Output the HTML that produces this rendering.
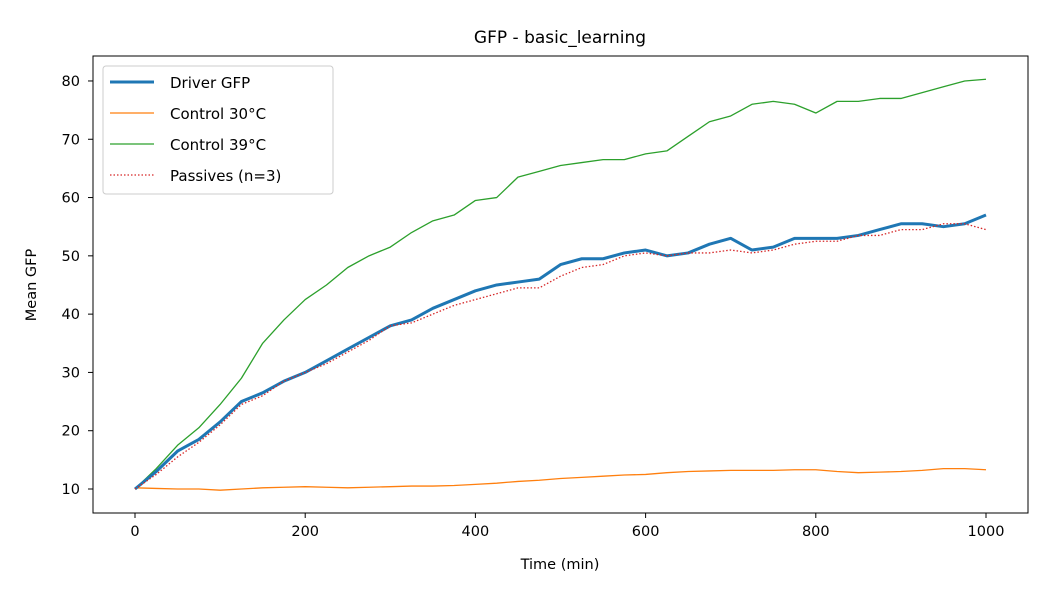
<!DOCTYPE html>
<html><head><meta charset="utf-8"><style>
body{margin:0;background:#fff;font-family:"Liberation Sans","DejaVu Sans",sans-serif}
</style></head><body>
<svg id="chart" width="1050" height="600" xmlns="http://www.w3.org/2000/svg" font-family="DejaVu Sans, Liberation Sans, sans-serif">
<rect width="1050" height="600" fill="#fff"/>
<text x="560" y="43" text-anchor="middle" font-size="17">GFP - basic_learning</text>
<text x="560" y="569" text-anchor="middle" font-size="14.5">Time (min)</text>
<text transform="translate(36,285) rotate(-90)" text-anchor="middle" font-size="14.5">Mean GFP</text>
<g id="xt"></g><g id="yt"></g><g id="series"></g>
<rect x="93" y="56" width="935" height="457" fill="none" stroke="#000" stroke-width="1"/>
<g>
<rect x="103" y="66" width="230" height="128" rx="3" fill="#fff" fill-opacity="0.8" stroke="#ccc"/>
<line x1="110" y1="82" x2="154" y2="82" stroke="#1f77b4" stroke-width="3"/>
<text x="170" y="88" font-size="15">Driver GFP</text>
<line x1="110" y1="113" x2="154" y2="113" stroke="#ff7f0e" stroke-width="1.3"/>
<text x="170" y="119" font-size="15">Control 30°C</text>
<line x1="110" y1="144" x2="154" y2="144" stroke="#2ca02c" stroke-width="1.3"/>
<text x="170" y="150" font-size="15">Control 39°C</text>
<line x1="110" y1="175" x2="154" y2="175" stroke="#d62728" stroke-width="1.3" stroke-dasharray="1.5,2"/>
<text x="170" y="181" font-size="15">Passives (n=3)</text>
</g>
</svg>
<script>
const times=[0,25,50,75,100,125,150,175,200,225,250,275,300,325,350,375,400,425,450,475,500,525,550,575,600,625,650,675,700,725,750,775,800,825,850,875,900,925,950,975,1000];
const driver=[10,13,16.5,18.5,21.5,25,26.5,28.5,30,32,34,36,38,39,41,42.5,44,45,45.5,46,48.5,49.5,49.5,50.5,51,50,50.5,52,53,51,51.5,53,53,53,53.5,54.5,55.5,55.5,55,55.5,57];
const passives=[10,12.5,15.5,18,21,24.5,26,28.5,30,31.5,33.5,35.5,38,38.5,40,41.5,42.5,43.5,44.5,44.5,46.5,48,48.5,50,50.5,50,50.5,50.5,51,50.5,51,52,52.5,52.5,53.5,53.5,54.5,54.5,55.5,55.5,54.5];
const ctrl39=[10,13.5,17.5,20.5,24.5,29,35,39,42.5,45,48,50,51.5,54,56,57,59.5,60,63.5,64.5,65.5,66,66.5,66.5,67.5,68,70.5,73,74,76,76.5,76,74.5,76.5,76.5,77,77,78,79,80,80.3];
const ctrl30=[10.2,10.1,10,10,9.8,10,10.2,10.3,10.4,10.3,10.2,10.3,10.4,10.5,10.5,10.6,10.8,11,11.3,11.5,11.8,12,12.2,12.4,12.5,12.8,13,13.1,13.2,13.2,13.2,13.3,13.3,13,12.8,12.9,13,13.2,13.5,13.5,13.3];
const xTicks=[0,200,400,600,800,1000];
const yTicks=[10,20,30,40,50,60,70,80];
const NS="http://www.w3.org/2000/svg";
const X=v=>135+v*0.851, Y=v=>489-(v-10)*5.829;
const xt=document.getElementById('xt'),yt=document.getElementById('yt'),sg=document.getElementById('series');
xTicks.forEach(t=>{
 const l=document.createElementNS(NS,'line');
 
 
 l.setAttribute('x1',X(t));l.setAttribute('x2',X(t));l.setAttribute('y1',513);l.setAttribute('y2',518);l.setAttribute('stroke','#000');
 xt.appendChild(l);
 const s=document.createElementNS(NS,'text');
 
 
 s.setAttribute('x',X(t));s.setAttribute('y',536);s.setAttribute('text-anchor','middle');s.setAttribute('font-size','14.5');
 s.textContent=t;xt.appendChild(s);
});
yTicks.forEach(t=>{
 const l=document.createElementNS(NS,'line');
 
 
 l.setAttribute('x1',88);l.setAttribute('x2',93);l.setAttribute('y1',Y(t));l.setAttribute('y2',Y(t));l.setAttribute('stroke','#000');
 yt.appendChild(l);
 const s=document.createElementNS(NS,'text');
 
 
 s.setAttribute('x',80);s.setAttribute('y',Y(t)+5);s.setAttribute('text-anchor','end');s.setAttribute('font-size','14.5');
 s.textContent=t;yt.appendChild(s);
});
function line(vals,color,w,dash,name){
 const p=document.createElementNS(NS,'polyline');
 
 
 p.setAttribute('points',vals.map((v,i)=>X(times[i])+','+Y(v)).join(' '));
 p.setAttribute('fill','none');p.setAttribute('stroke',color);p.setAttribute('stroke-width',w);
 p.setAttribute('stroke-linejoin','round');
 if(dash)p.setAttribute('stroke-dasharray',dash);
 sg.appendChild(p);
}
line(ctrl30,'#ff7f0e',1.3,null,'control-30-line');
line(ctrl39,'#2ca02c',1.3,null,'control-39-line');
line(driver,'#1f77b4',3,null,'driver-gfp-line');
line(passives,'#d62728',1.3,'1.5,2','passives-line');
</script>
</body></html>
